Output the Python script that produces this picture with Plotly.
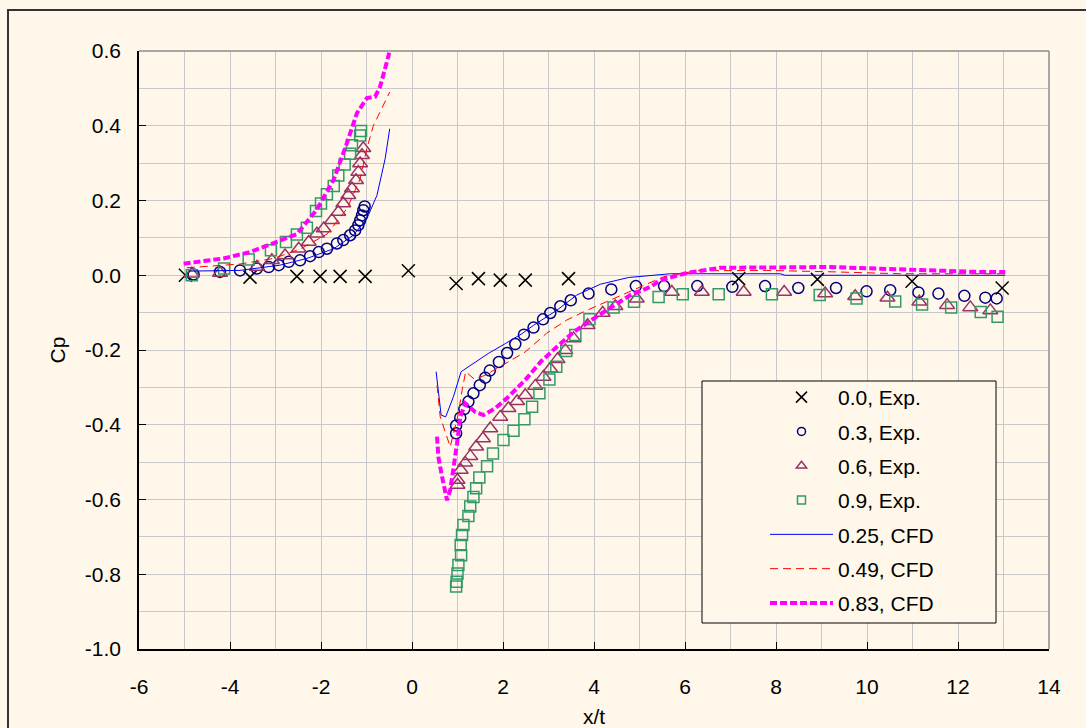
import plotly.graph_objects as go

# ---- data ----
x00 = [-4.98, -3.56, -2.53, -2.02, -1.58, -1.03, -0.08, 0.97, 1.46, 1.94, 2.49, 3.44, 7.18, 8.91, 10.99, 12.97]
y00 = [0.0, -0.005, -0.003, -0.003, -0.003, -0.003, 0.012, -0.022, -0.009, -0.013, -0.013, -0.009, -0.009, -0.011, -0.016, -0.034]

x03_left = [-4.80, -4.22, -3.78, -3.41, -3.15, -2.93, -2.71, -2.46, -2.24, -2.05, -1.87, -1.65, -1.51, -1.36, -1.25, -1.18, -1.14, -1.10, -1.07, -1.04]
y03_left = [0.002, 0.009, 0.013, 0.018, 0.022, 0.027, 0.036, 0.040, 0.051, 0.062, 0.071, 0.085, 0.094, 0.107, 0.120, 0.134, 0.147, 0.160, 0.174, 0.184]
x03_right = [0.97, 0.97, 1.06, 1.15, 1.24, 1.35, 1.49, 1.61, 1.71, 1.91, 2.09, 2.27, 2.46, 2.67, 2.88, 3.04, 3.26, 3.49, 3.88, 4.38, 4.92, 5.54, 6.27, 7.04, 7.76, 8.49, 9.32, 9.99, 10.51, 11.13, 11.57, 12.14, 12.60, 12.85]
y03_right = [-0.423, -0.402, -0.381, -0.358, -0.338, -0.316, -0.294, -0.274, -0.255, -0.232, -0.208, -0.184, -0.159, -0.140, -0.118, -0.101, -0.083, -0.067, -0.049, -0.038, -0.029, -0.029, -0.029, -0.031, -0.029, -0.034, -0.034, -0.043, -0.040, -0.046, -0.049, -0.055, -0.060, -0.062]

x06_left = [-4.84, -4.22, -3.41, -3.08, -2.79, -2.49, -2.27, -2.09, -1.94, -1.76, -1.62, -1.51, -1.40, -1.32, -1.23, -1.18, -1.14, -1.10, -1.07]
y06_left = [0.004, 0.006, 0.022, 0.040, 0.053, 0.071, 0.089, 0.111, 0.125, 0.147, 0.169, 0.192, 0.214, 0.232, 0.254, 0.276, 0.299, 0.321, 0.340]
x06_right = [1.00, 1.00, 1.07, 1.17, 1.28, 1.41, 1.56, 1.72, 1.94, 2.12, 2.31, 2.49, 2.71, 2.89, 3.04, 3.20, 3.37, 3.55, 3.86, 4.19, 4.47, 4.94, 5.71, 6.37, 7.29, 8.18, 9.08, 9.74, 10.45, 11.15, 11.76, 12.27, 12.71]
y06_right = [-0.561, -0.548, -0.521, -0.502, -0.484, -0.459, -0.437, -0.410, -0.379, -0.356, -0.337, -0.321, -0.296, -0.272, -0.250, -0.225, -0.201, -0.169, -0.134, -0.101, -0.083, -0.063, -0.045, -0.045, -0.045, -0.045, -0.049, -0.056, -0.060, -0.071, -0.080, -0.086, -0.094]

x09_left = [-4.84, -4.13, -3.59, -3.10, -2.77, -2.53, -2.31, -2.11, -2.00, -1.87, -1.72, -1.62, -1.48, -1.36, -1.32, -1.14, -1.12]
y09_left = [0.0, 0.018, 0.042, 0.067, 0.089, 0.109, 0.127, 0.172, 0.192, 0.217, 0.239, 0.267, 0.296, 0.325, 0.348, 0.374, 0.386]
x09_right = [0.97, 0.98, 1.00, 1.02, 1.08, 1.07, 1.10, 1.13, 1.24, 1.28, 1.35, 1.41, 1.48, 1.65, 1.78, 2.01, 2.23, 2.47, 2.64, 2.80, 3.02, 3.17, 3.39, 3.59, 3.90, 4.43, 4.88, 5.42, 5.95, 6.74, 7.91, 8.96, 9.77, 10.62, 11.21, 11.85, 12.50, 12.87]
y09_right = [-0.833, -0.820, -0.798, -0.775, -0.749, -0.722, -0.695, -0.668, -0.644, -0.619, -0.593, -0.570, -0.541, -0.511, -0.477, -0.441, -0.416, -0.385, -0.352, -0.316, -0.279, -0.245, -0.203, -0.160, -0.118, -0.086, -0.071, -0.058, -0.051, -0.051, -0.051, -0.053, -0.062, -0.070, -0.078, -0.086, -0.098, -0.111]

x25 = [-4.9, -3.78, -2.90, -2.31, -1.72, -1.29, -0.99, -0.77, -0.59, -0.49, None,
       0.53, 0.64, 0.74, 0.91, 1.08, 1.39, 1.68, 2.05, 2.42, 2.67, 3.18, 3.62, 4.14, 4.76, 5.68, 6.34, 8.09, 8.20, 13.04]
y25 = [0.011, 0.013, 0.027, 0.045, 0.071, 0.107, 0.152, 0.214, 0.312, 0.392, None,
       -0.258, -0.374, -0.379, -0.325, -0.258, -0.232, -0.209, -0.183, -0.156, -0.134, -0.094, -0.053, -0.024, -0.006, 0.004, 0.004, 0.004, 0.0, 0.0]

x49 = [-4.95, -3.78, -3.04, -2.46, -1.87, -1.43, -1.14, -0.99, -0.85, -0.49, None,
       0.55, 0.62, 0.84, 1.02, 1.10, 1.18, 1.37, 1.60, 2.00, 2.49, 2.96, 3.40, 3.84, 4.43, 5.16, 5.53, 6.26, 7.80, 9.27, 10.73, 13.04]
y49 = [0.020, 0.030, 0.045, 0.070, 0.110, 0.178, 0.258, 0.340, 0.400, 0.490, None,
       -0.294, -0.379, -0.459, -0.370, -0.308, -0.258, -0.278, -0.268, -0.240, -0.205, -0.155, -0.120, -0.094, -0.062, -0.022, -0.004, 0.012, 0.013, 0.009, 0.004, 0.004]

x83 = [-5.02, -4.14, -3.56, -3.04, -2.53, -2.09, -1.72, -1.43, -1.21, -0.99, -0.81, -0.70, -0.59, -0.52, -0.48, None,
       0.55, 0.58, 0.66, 0.77, 0.84, 0.91, 0.99, 1.06, 1.17, 1.39, 1.57, 1.83, 2.12, 2.49, 2.84, 3.18, 3.55, 3.99, 4.50, 4.80, 5.24, 5.46, 6.04, 6.48, 6.77, 9.19, 10.14, 11.17, 12.42, 13.04]
y83 = [0.031, 0.045, 0.062, 0.085, 0.110, 0.176, 0.256, 0.354, 0.434, 0.474, 0.478, 0.505, 0.550, 0.585, 0.610, None,
       -0.432, -0.486, -0.539, -0.602, -0.575, -0.521, -0.450, -0.379, -0.343, -0.366, -0.374, -0.356, -0.325, -0.280, -0.230, -0.192, -0.152, -0.116, -0.076, -0.053, -0.031, -0.013, 0.006, 0.015, 0.020, 0.022, 0.018, 0.015, 0.009, 0.009]

x_tickvals = [-6, -4, -2, 0, 2, 4, 6, 8, 10, 12, 14]
x_ticktext = ["-6", "-4", "-2", "0", "2", "4", "6", "8", "10", "12", "14"]
y_tickvals = [-1.0, -0.8, -0.6, -0.4, -0.2, 0.0, 0.2, 0.4, 0.6]
y_ticktext = ["-1.0", "-0.8", "-0.6", "-0.4", "-0.2", "0.0", "0.2", "0.4", "0.6"]

names = ["0.0, Exp.", "0.3, Exp.", "0.6, Exp.", "0.9, Exp.", "0.25, CFD", "0.49, CFD", "0.83, CFD"]

FONT = "Liberation Sans, Arial, sans-serif"
FS = 21
BG = "#FFF8EA"

C_X, C_O, C_T, C_S = "#000000", "#000080", "#993366", "#339966"
C_25, C_49, C_83 = "#0000FF", "#FF0000", "#FF00FF"

def mk(symbol, size, color, w=1.5):
    return dict(symbol=symbol, size=size, color=color, line=dict(color=color, width=w))

series = [
    (x00, y00, mk("x-thin-open", 13, C_X), mk("x-thin-open", 11, C_X)),
    (x03_left + x03_right, y03_left + y03_right, mk("circle-open", 11, C_O), mk("circle-open", 8, C_O)),
    (x06_left + x06_right, y06_left + y06_right, mk("triangle-up-open", 13, C_T), mk("triangle-up-open", 9, C_T)),
    (x09_left + x09_right, y09_left + y09_right, mk("square-open", 11, C_S), mk("square-open", 8, C_S)),
]
lines = [
    (x25, y25, dict(color=C_25, width=1)),
    (x49, y49, dict(color=C_49, width=1, dash="8px,5px")),
    (x83, y83, dict(color=C_83, width=4, dash="7px,3px")),
]

fig = go.Figure()
groups = "abcdefg"
for i, (xs, ys, m, _) in enumerate(series):
    fig.add_trace(go.Scatter(x=xs, y=ys, mode="markers", name=names[i], showlegend=False, marker=m))
for j, (xs, ys, ln) in enumerate(lines):
    fig.add_trace(go.Scatter(x=xs, y=ys, mode="lines", name=names[4 + j], showlegend=False, line=ln))
# legend entries (smaller symbols, like the reference legend)
for i, (_, _, _, lm) in enumerate(series):
    fig.add_trace(go.Scatter(x=[None], y=[None], mode="markers", name=names[i], legendgroup=groups[i], marker=lm))
for j, (_, _, ln) in enumerate(lines):
    fig.add_trace(go.Scatter(x=[None], y=[None], mode="lines", name=names[4 + j], legendgroup=groups[4 + j], line=ln))

L, R, T, B = 139, 1049, 51, 649
W, H = 1086, 728
pw, ph = R - L, B - T

def px_x(p):
    return (p - L) / pw

def px_y(p):
    return (B - p) / ph

shapes = [
    dict(type="rect", xref="paper", yref="paper", x0=px_x(8), x1=px_x(1200), y0=px_y(900), y1=px_y(10),
         line=dict(color="#333333", width=2), fillcolor="rgba(0,0,0,0)", layer="below"),
    dict(type="line", xref="paper", yref="paper", x0=0, x1=1, y0=1, y1=1, line=dict(color="#8C8C8C", width=1.5), layer="above"),
    dict(type="line", xref="paper", yref="paper", x0=1, x1=1, y0=0, y1=1, line=dict(color="#8C8C8C", width=1.5), layer="above"),
    dict(type="rect", xref="paper", yref="paper", x0=px_x(702), x1=px_x(996), y0=px_y(623), y1=px_y(381),
         line=dict(color="#000000", width=1), fillcolor=BG, layer="above"),
]

grid = "#C8C8C8"
fig.update_layout(
    width=W, height=H,
    margin=dict(l=L, r=W - R, t=T, b=H - B, autoexpand=False),
    paper_bgcolor=BG, plot_bgcolor=BG,
    font=dict(family=FONT, size=FS, color="#000000"),
    shapes=shapes,
    showlegend=True,
    legend=dict(x=px_x(765), y=px_y(377), xanchor="left", yanchor="top",
                bgcolor="rgba(0,0,0,0)", borderwidth=0, itemwidth=63,
                traceorder="grouped", tracegroupgap=4,
                font=dict(family=FONT, size=FS, color="#000000")),
    xaxis=dict(range=[-6, 14], tickmode="array", tickvals=x_tickvals, ticktext=x_ticktext,
               automargin=False,
               showgrid=True, gridcolor=grid, gridwidth=1, zeroline=False,
               minor=dict(tickmode="linear", tick0=-6, dtick=1, showgrid=True, gridcolor=grid, gridwidth=1, ticks=""),
               showline=True, linecolor="#000000", linewidth=1.5,
               ticks="inside", ticklen=7, tickcolor="#000000", tickwidth=1,
               ticklabelstandoff=18,
               tickfont=dict(family=FONT, size=FS),
               title=dict(text="x/t", font=dict(family=FONT, size=FS), standoff=12)),
    yaxis=dict(range=[-1.0, 0.6], tickmode="array", tickvals=y_tickvals, ticktext=y_ticktext,
               automargin=False,
               showgrid=True, gridcolor=grid, gridwidth=1, zeroline=False,
               minor=dict(tickmode="linear", tick0=-1.0, dtick=0.1, showgrid=True, gridcolor=grid, gridwidth=1, ticks=""),
               showline=True, linecolor="#000000", linewidth=1.5,
               ticks="inside", ticklen=7, tickcolor="#000000", tickwidth=1,
               ticklabelstandoff=12,
               tickfont=dict(family=FONT, size=FS),
               title=dict(text="Cp", font=dict(family=FONT, size=FS), standoff=14)),
)

fig.write_html("out.html")
